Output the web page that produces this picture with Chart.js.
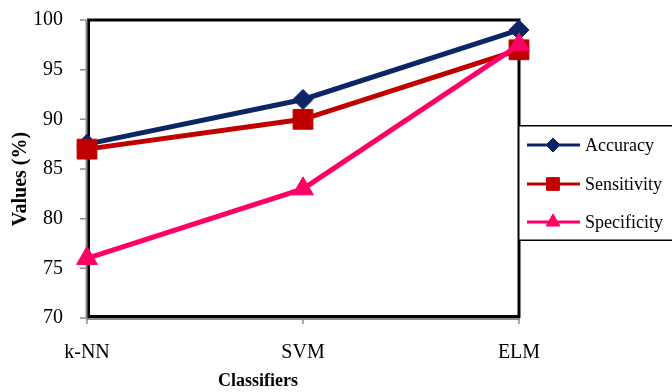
<!DOCTYPE html>
<html><head><meta charset="utf-8">
<script src="https://cdn.jsdelivr.net/npm/chart.js@4"></script>
<style>html,body{margin:0;padding:0;background:#fff}#wrap{width:672px;height:392px;position:relative}</style>
</head><body><div id="wrap"><canvas id="c" width="672" height="392"></canvas></div>
<script>
const categories = ["k-NN", "SVM", "ELM"];
const accuracy = [87.5, 92, 99];
const sensitivity = [87, 90, 97];
const specificity = [76, 83, 97.5];
const seriesNames = ["Accuracy", "Sensitivity", "Specificity"];
const yTicks = [70, 75, 80, 85, 90, 95, 100];
const xTitle = "Classifiers";
const yTitle = "Values (%)";

const FONT = "'Liberation Serif', 'Times New Roman', serif";
const colors = ["#0B2565", "#C00000", "#FF0066"];
const styles = ["rectRot", "rect", "triangle"];
const radii = [10, 14, 12];
const legendRadii = [7, 9, 8];

const framePlugin = {
  id: 'frame',
  beforeDatasetsDraw(chart) {
    const {ctx, chartArea: a} = chart;
    ctx.save();
    ctx.strokeStyle = '#000'; ctx.lineWidth = 3;
    ctx.strokeRect(a.left + 1.5, a.top, a.right - a.left - 1.5, a.bottom - a.top - 1.5);
    ctx.strokeStyle = '#8c8c8c'; ctx.lineWidth = 2;
    ctx.beginPath();
    ctx.moveTo(a.left - 0.5, a.top); ctx.lineTo(a.left - 0.5, a.bottom + 1);
    ctx.moveTo(a.left - 0.5, a.bottom + 1); ctx.lineTo(a.right + 1, a.bottom + 1);
    ctx.stroke();
    const ys = chart.scales.y;
    ctx.lineWidth = 1.5;
    ctx.beginPath();
    yTicks.forEach(v => { const y = ys.getPixelForValue(v); ctx.moveTo(a.left - 7, y); ctx.lineTo(a.left - 1, y); });
    const xs = chart.scales.x;
    categories.forEach((c, i) => { const x = xs.getPixelForValue(i); ctx.moveTo(x, a.bottom + 1); ctx.lineTo(x, a.bottom + 6); });
    ctx.stroke();
    ctx.fillStyle = '#000';
    ctx.textAlign = 'center'; ctx.textBaseline = 'middle';
    ctx.font = "bold 18px " + FONT;
    ctx.fillText(xTitle, 258, 381);
    ctx.save();
    ctx.translate(21, 179); ctx.rotate(-Math.PI / 2);
    ctx.font = "bold 20px " + FONT;
    ctx.fillText(yTitle, 0, 0);
    ctx.restore();
    ctx.restore();
  },
  afterDraw(chart) {
    const {ctx} = chart;
    ctx.save();
    const bx = 518, by = 125, bw = 170, bh = 116;
    ctx.fillStyle = '#fff';
    ctx.fillRect(bx, by, bw, bh);
    ctx.strokeStyle = '#000'; ctx.lineWidth = 1.5;
    ctx.strokeRect(bx + 0.75, by + 0.75, bw, bh - 1.5);
    const rows = [145, 184, 222];
    chart.data.datasets.forEach((ds, i) => {
      const y = rows[i];
      ctx.strokeStyle = ds.borderColor; ctx.lineWidth = 3;
      ctx.beginPath(); ctx.moveTo(527, y); ctx.lineTo(580, y); ctx.stroke();
      ctx.fillStyle = ds.borderColor; ctx.lineWidth = 1;
      Chart.helpers.drawPoint(ctx, {pointStyle: ds.pointStyle, radius: legendRadii[i], borderWidth: 1}, 553, y);
      ctx.fillStyle = '#000';
      ctx.font = "18px " + FONT;
      ctx.textAlign = 'left'; ctx.textBaseline = 'middle';
      ctx.fillText(ds.label, 585, y + 1);
    });
    ctx.restore();
  }
};

const datasets = [accuracy, sensitivity, specificity].map((d, i) => ({
  label: seriesNames[i], data: d, order: 3 - i,
  borderColor: colors[i], backgroundColor: colors[i],
  borderWidth: 5, pointStyle: styles[i], pointRadius: radii[i],
  pointBorderWidth: 1, pointBackgroundColor: colors[i], pointBorderColor: colors[i],
  clip: false, tension: 0
}));

new Chart(document.getElementById('c'), {
  type: 'line',
  data: { labels: categories, datasets },
  options: {
    responsive: false, animation: false,
    layout: { autoPadding: false, padding: { left: 0, top: 20, right: 153, bottom: 0 } },
    plugins: { legend: { display: false }, tooltip: { enabled: false } },
    scales: {
      x: {
        offset: false,
        grid: { display: false, drawTicks: false },
        border: { display: false },
        ticks: { color: '#000', font: { family: FONT, size: 20 }, padding: 23, maxRotation: 0 },
        afterFit(s) { s.height = 74; s.paddingLeft = 0; s.paddingRight = 0; s.paddingTop = 0; s.paddingBottom = 0; }
      },
      y: {
        min: 70, max: 100,
        afterBuildTicks(s) { s.ticks = yTicks.map(v => ({ value: v })); },
        grid: { display: false, drawTicks: false },
        border: { display: false },
        ticks: { color: '#000', font: { family: FONT, size: 20 }, padding: 24 },
        afterFit(s) { s.width = 87; s.paddingTop = 0; s.paddingBottom = 0; s.paddingLeft = 0; s.paddingRight = 0; }
      }
    }
  },
  plugins: [framePlugin]
});
</script></body></html>
